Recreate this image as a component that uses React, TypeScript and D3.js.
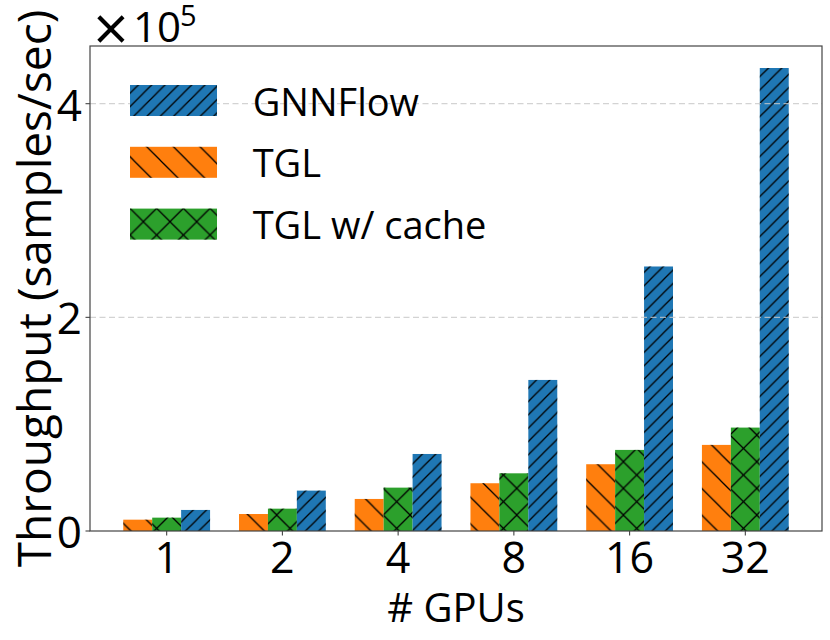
import React from "react";
import * as d3 from "d3";

const categories = ["1", "2", "4", "8", "16", "32"];
const seriesNames = ["TGL", "TGL w/ cache", "GNNFlow"];
const tglValues = [10600, 15900, 30000, 44700, 62500, 80600];
const tglCacheValues = [12500, 20900, 40600, 54000, 75900, 96800];
const gnnflowValues = [19700, 37800, 72100, 141400, 247600, 433400];
const yTicks = [0, 2, 4];
const legendOrder = ["GNNFlow", "TGL", "TGL w/ cache"];

const W = 830;
const H = 640;
const left = 90;
const right = 822;
const top = 46;
const bottom = 531;
const FONT = "'Open Sans', 'DejaVu Sans', sans-serif";

const colors: Record<string, string> = {
  GNNFlow: "#1f77b4",
  TGL: "#ff7f0e",
  "TGL w/ cache": "#2ca02c",
};
const patterns: Record<string, string> = {
  GNNFlow: "url(#hatchNE)",
  TGL: "url(#hatchSE)",
  "TGL w/ cache": "url(#hatchX)",
};

export default function App() {
  const n = categories.length;
  const barW = 0.25;
  const pad = (n - 1 + 3 * barW) * 0.05;
  const x = d3
    .scaleLinear()
    .domain([-1.5 * barW - pad, n - 1 + 1.5 * barW + pad])
    .range([left, right]);
  const y = d3.scaleLinear().domain([0, 4.54]).range([bottom, top]);

  const series = [
    { name: seriesNames[0], values: tglValues, offset: -1 },
    { name: seriesNames[1], values: tglCacheValues, offset: 0 },
    { name: seriesNames[2], values: gnnflowValues, offset: 1 },
  ];

  const P1 = 13.33;
  const P2 = 26.67;
  const hw = 1.25;

  return (
    <svg
      width={W}
      height={H}
      style={{ position: "absolute", left: 0, top: 0, background: "#fff" }}
      fontFamily={FONT}
    >
      <defs>
        <pattern id="hatchNE" patternUnits="userSpaceOnUse" width={P1} height={P1} x={10} y={0}>
          <line x1={0} y1={P1} x2={P1} y2={0} stroke="#000" strokeWidth={hw} />
          <line x1={-1} y1={1} x2={1} y2={-1} stroke="#000" strokeWidth={hw} />
          <line x1={P1 - 1} y1={P1 + 1} x2={P1 + 1} y2={P1 - 1} stroke="#000" strokeWidth={hw} />
        </pattern>
        <pattern id="hatchSE" patternUnits="userSpaceOnUse" width={P2} height={P2} x={0} y={0}>
          <line x1={0} y1={0} x2={P2} y2={P2} stroke="#000" strokeWidth={hw} />
          <line x1={P2 - 1} y1={-1} x2={P2 + 1} y2={1} stroke="#000" strokeWidth={hw} />
          <line x1={-1} y1={P2 - 1} x2={1} y2={P2 + 1} stroke="#000" strokeWidth={hw} />
        </pattern>
        <pattern id="hatchX" patternUnits="userSpaceOnUse" width={P2} height={P2} x={10} y={8.3}>
          <line x1={0} y1={0} x2={P2} y2={P2} stroke="#000" strokeWidth={hw} />
          <line x1={0} y1={P2} x2={P2} y2={0} stroke="#000" strokeWidth={hw} />
        </pattern>
      </defs>

      {/* bars */}
      {series.map((s) =>
        s.values.map((v, i) => {
          const x0 = x(i + s.offset * barW - barW / 2);
          const x1 = x(i + s.offset * barW + barW / 2);
          const yv = y(v / 1e5);
          return (
            <g key={s.name + i}>
              <rect x={x0} y={yv} width={x1 - x0} height={bottom - yv} fill={colors[s.name]} />
              <rect x={x0} y={yv} width={x1 - x0} height={bottom - yv} fill={patterns[s.name]} />
            </g>
          );
        })
      )}

      {/* grid on top */}
      {yTicks.slice(1).map((t) => (
        <line
          key={"g" + t}
          x1={left}
          x2={right}
          y1={y(t)}
          y2={y(t)}
          stroke="#c8c8c8"
          strokeOpacity={0.8}
          strokeWidth={1.3}
          strokeDasharray="6,3.5"
        />
      ))}

      {/* axes frame */}
      <rect x={left} y={top} width={right - left} height={bottom - top} fill="none" stroke="#444" strokeWidth={1.2} />

      {/* y ticks */}
      {yTicks.map((t) => (
        <g key={"y" + t}>
          <line x1={left - 4.5} x2={left} y1={y(t)} y2={y(t)} stroke="#444" strokeWidth={1.1} />
          <text x={left - 8} y={y(t)} textAnchor="end" dominantBaseline="central" fontSize={44} fill="#000">
            {t}
          </text>
        </g>
      ))}

      {/* x ticks */}
      {categories.map((c, i) => (
        <g key={"x" + c}>
          <line x1={x(i)} x2={x(i)} y1={bottom} y2={bottom + 4.5} stroke="#444" strokeWidth={1.1} />
          <text x={x(i)} y={573} textAnchor="middle" fontSize={43} fill="#000">
            {c}
          </text>
        </g>
      ))}

      {/* multiplier */}
      <text x={111} y={27} textAnchor="middle" dominantBaseline="central" fontSize={62} fill="#000">
        ×
      </text>
      <text x={133} y={41.7} fontSize={42} fill="#000">
        10
      </text>
      <text x={180} y={26} fontSize={29} fill="#000">
        5
      </text>

      {/* axis labels */}
      <text
        transform={`translate(51, ${(top + bottom) / 2}) rotate(-90)`}
        textAnchor="middle"
        fontSize={46}
        fill="#000"
      >
        Throughput (samples/sec)
      </text>
      <text x={(left + right) / 2} y={622} textAnchor="middle" fontSize={40} fill="#000">
        # GPUs
      </text>

      {/* legend */}
      {legendOrder.map((name, k) => {
        const ly = 85 + k * 61.8;
        return (
          <g key={"l" + name}>
            <rect x={130} y={ly} width={87} height={31} fill={colors[name]} />
            <rect x={130} y={ly} width={87} height={31} fill={patterns[name]} />
            <text x={252.7} y={ly + 15.5} dominantBaseline="central" fontSize={38} fill="#000">
              {name}
            </text>
          </g>
        );
      })}
    </svg>
  );
}
